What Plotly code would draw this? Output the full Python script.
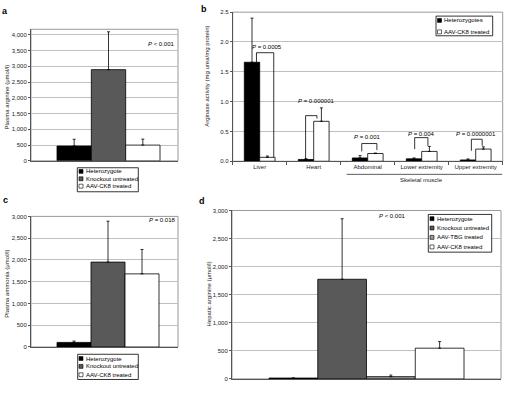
import plotly.graph_objects as go

W, H = 505, 394

# ---------------- data ----------------
# panel a: plasma arginine (umol/l)
a_groups = ["Heterozygote", "Knockout untreated", "AAV-CK8 treated"]
a_values = [470, 2895, 500]
a_err = [215, 1200, 190]
a_p = "<i>P</i> < 0.001"

# panel b: arginase activity (mg urea/mg protein)
b_categories = ["Liver", "Heart", "Abdominal", "Lower extremity", "Upper extremity"]
b_series = ["Heterozygotes", "AAV-CK8 treated"]
b_het = [1.66, 0.03, 0.055, 0.04, 0.022]
b_het_err = [0.74, 0.012, 0.04, 0.015, 0.017]
b_ck8 = [0.066, 0.67, 0.13, 0.165, 0.204]
b_ck8_err = [0.022, 0.225, 0.007, 0.083, 0.038]
b_pvals = ["0.0005", "0.000001", "0.001", "0.004", "0.0000001"]
b_bracket_top = [1.82, 0.765, 0.297, 0.396, 0.369]
b_bracket_left_end = [1.66, 0.033, 0.165, 0.204, 0.176]
b_bracket_right_end = [0.066, 0.716, 0.187, 0.259, 0.259]
b_p_y = [1.92, 1.013, 0.413, 0.45, 0.45]
b_group_label = "Skeletal muscle"

# panel c: plasma ammonia (umol/l)
c_groups = ["Heterozygote", "Knockout untreated", "AAV-CK8 treated"]
c_values = [105, 1950, 1680]
c_err = [30, 940, 560]
c_p = "<i>P</i> = 0.018"

# panel d: hepatic arginine (umol/l)
d_groups = ["Heterozygote", "Knockout untreated", "AAV-TBG treated", "AAV-CK8 treated"]
d_values = [15, 1775, 40, 547]
d_err = [0, 1078, 28, 118]
d_p = "<i>P</i> < 0.001"

# ---------------- style ----------------
FONT = "Liberation Sans, Arial, sans-serif"
TXT = "#222222"
AX = "#555555"
GRID = "#c0c0c0"
BOX = "#999999"
colors3 = ["#000000", "#595959", "#ffffff"]
colors4 = ["#000000", "#595959", "#9a9a9a", "#ffffff"]
colors2 = ["#000000", "#ffffff"]


def px(x):
    return x / W


def py(y):
    return 1 - y / H


fig = go.Figure()
shapes = []
annotations = []


def add_bars(names, values, errs, colors, xa, ya, xcats):
    for n, v, e, c in zip(names, values, errs, colors):
        fig.add_trace(go.Bar(
            x=xcats, y=[v], name=n,
            marker=dict(color=c, line=dict(color="black", width=0.8)),
            error_y=dict(type="data", symmetric=False, array=[e], arrayminus=[0],
                         color="black", thickness=0.8, width=1.5),
            xaxis=xa, yaxis=ya, showlegend=False,
        ))


add_bars(a_groups, a_values, a_err, colors3, "x", "y", ["g"])
for name, vals, errs, col in ((b_series[0], b_het, b_het_err, colors2[0]),
                              (b_series[1], b_ck8, b_ck8_err, colors2[1])):
    fig.add_trace(go.Bar(x=b_categories, y=vals, name=name,
                         marker=dict(color=col, line=dict(color="black", width=0.8)),
                         error_y=dict(type="data", symmetric=False, array=errs,
                                      arrayminus=[0] * len(vals), color="black",
                                      thickness=0.8, width=1.5),
                         xaxis="x2", yaxis="y2", showlegend=False))
add_bars(c_groups, c_values, c_err, colors3, "x3", "y3", ["g"])
add_bars(d_groups, d_values, d_err, colors4, "x4", "y4", ["g"])

# plot areas in pixels: (left, right, top, bottom)
PA = (31, 178, 26.7, 160.3)
PB = (232.7, 502.7, 9.3, 160.7)
PC = (31, 178, 216.7, 349.3)
PD = (232, 501, 210.7, 381.7)

BARGAP = 0.43


def single_range(p, g0, g1):
    unit = (g1 - g0) / (1 - BARGAP)
    c = (g0 + g1) / 2
    return [-(c - p[0]) / unit, (p[1] - c) / unit]


def yaxis(p, rng, dtick, fmt, anchor):
    return dict(domain=[py(p[3]), py(p[2])], range=rng, dtick=dtick, tickformat=fmt,
                anchor=anchor,
                showline=True, linecolor=AX, linewidth=1, ticks="outside", ticklen=2,
                tickcolor=AX, showgrid=True, gridcolor=GRID, gridwidth=1, zeroline=False,
                tickfont=dict(size=6, color=TXT, family=FONT))


def xaxis(p, rng, anchor):
    return dict(domain=[px(p[0]), px(p[1])], range=rng, anchor=anchor, type="category",
                showline=True, linecolor=AX, linewidth=1, showticklabels=False,
                ticks="", showgrid=False, zeroline=False)


fig.update_layout(
    xaxis=xaxis(PA, single_range(PA, 57, 160), "y"),
    yaxis=yaxis(PA, [0, 4175], 500, ",", "x"),
    xaxis2=dict(domain=[px(PB[0]), px(PB[1])], range=[-0.5, 4.5], anchor="y2", type="category",
                showline=True, linecolor=AX, linewidth=1, ticks="outside", tickson="boundaries",
                ticklen=3, tickcolor=AX, showgrid=False, zeroline=False,
                tickfont=dict(size=6, color=TXT, family=FONT)),
    yaxis2=yaxis(PB, [0, 2.5], 0.5, ".1f", "x2"),
    xaxis3=xaxis(PC, single_range(PC, 57, 159), "y3"),
    yaxis3=yaxis(PC, [0, 3000], 500, ",", "x3"),
    xaxis4=xaxis(PD, single_range(PD, 269, 464), "y4"),
    yaxis4=yaxis(PD, [0, 3000], 500, ",", "x4"),
)

# plot-area boxes
for p in (PA, PB, PC, PD):
    shapes.append(dict(type="rect", xref="paper", yref="paper", x0=px(p[0]), x1=px(p[1]),
                       y0=py(p[3]), y1=py(p[2]), line=dict(color=BOX, width=1), layer="below"))


def text(x, y, s, size=6, xanchor="center", angle=0, bold=False, color=TXT):
    annotations.append(dict(x=px(x), y=py(y), xref="paper", yref="paper", text=s,
                            showarrow=False, xanchor=xanchor, yanchor="middle",
                            textangle=angle,
                            font=dict(size=size, color=color, family=FONT,
                                      weight="bold" if bold else "normal")))


# panel letters
text(5, 8, "a", size=9, bold=True, color="black")
text(204, 6, "b", size=9, bold=True, color="black")
text(5, 200, "c", size=9, bold=True, color="black")
text(202, 201, "d", size=9, bold=True, color="black")

# axis titles
text(7, 96, "Plasma arginine (\u03bcmol/l)", angle=-90)
text(207, 75, "Arginase activity (mg urea/mg protein)", angle=-90)
text(7, 285, "Plasma ammonia (\u03bcmol/l)", angle=-90)
text(209, 296, "Hepatic arginine (\u03bcmol/l)", angle=-90)

# P values
text(177, 42, a_p, xanchor="right", color="black")
text(178, 220, c_p, xanchor="right", color="black")
text(392, 216, d_p, color="black")


def legend(box, names, colors, ys, sw_x, tx_x):
    x0, x1, y0, y1 = box
    shapes.append(dict(type="rect", xref="paper", yref="paper", x0=px(x0), x1=px(x1),
                       y0=py(y1), y1=py(y0), line=dict(color="black", width=0.8),
                       fillcolor="white"))
    for n, c, y in zip(names, colors, ys):
        shapes.append(dict(type="rect", xref="paper", yref="paper", x0=px(sw_x - 2),
                           x1=px(sw_x + 2), y0=py(y + 2), y1=py(y - 2),
                           line=dict(color="black", width=0.6), fillcolor=c))
        text(tx_x, y, n, xanchor="left", color="black")


legend((77.3, 138.3, 167.3, 191.7), a_groups, colors3, [171, 178.5, 186], 81, 84)
legend((436, 492.7, 13.3, 33.3), b_series, colors2, [17.7, 29.3], 439.5, 442)
legend((77.7, 138.3, 356.7, 382.3), c_groups, colors3, [361, 369, 377.5], 81, 84)
legend((428.3, 491.7, 214.7, 253), d_groups, colors4, [219, 228.5, 238, 247.7], 432, 435)

# panel b brackets and p-values
bracket_left_dx = [-0.06, -0.15, -0.11, -0.13, -0.08]
bracket_right_dx = [0.26, 0.06, 0.17, 0.115, 0.12]
p_dx = [0.14, 0.05, 0.0, 0.0, 0.0]
for i in range(len(b_categories)):
    xl = i + bracket_left_dx[i]
    xr = i + bracket_right_dx[i]
    top = b_bracket_top[i]
    for (xa0, ya0, xa1, ya1) in ((xl, b_bracket_left_end[i], xl, top),
                                 (xl, top, xr, top),
                                 (xr, top, xr, b_bracket_right_end[i])):
        shapes.append(dict(type="line", xref="x2", yref="y2", x0=xa0, y0=ya0, x1=xa1, y1=ya1,
                           line=dict(color="black", width=0.8)))
    annotations.append(dict(x=i + p_dx[i], y=b_p_y[i], xref="x2", yref="y2",
                            text="<i>P</i> = " + b_pvals[i], showarrow=False,
                            xanchor="center", yanchor="middle",
                            font=dict(size=6, color="black", family=FONT)))

# skeletal muscle grouping
shapes.append(dict(type="line", xref="x2", yref="paper", x0=1.61, x1=4.49,
                   y0=py(174), y1=py(174), line=dict(color="#333333", width=0.8)))
annotations.append(dict(x=3, y=py(180), xref="x2", yref="paper", text=b_group_label,
                        showarrow=False, xanchor="center", yanchor="middle",
                        font=dict(size=6, color=TXT, family=FONT)))

fig.update_layout(
    width=W, height=H, margin=dict(l=0, r=0, t=0, b=0),
    paper_bgcolor="white", plot_bgcolor="white",
    barmode="group", bargap=BARGAP, bargroupgap=0,
    showlegend=False, shapes=shapes, annotations=annotations,
    font=dict(family=FONT, size=6, color=TXT),
)

fig.write_html(
    "out.html",
    config={"displayModeBar": False},
    post_script="document.body.style.margin='0';document.body.style.overflow='hidden';",
)
